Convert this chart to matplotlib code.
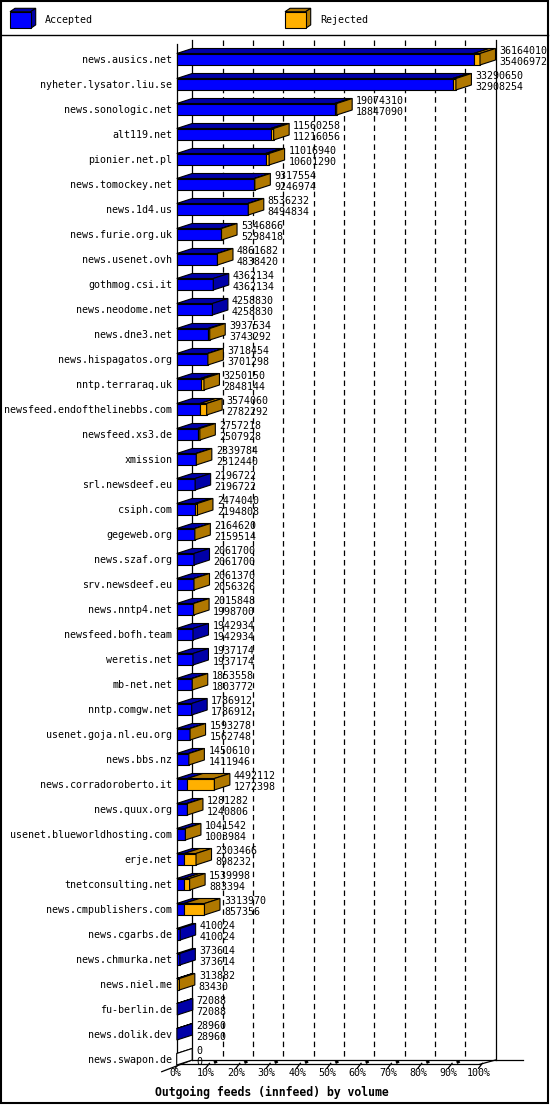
import numpy as np
import matplotlib
matplotlib.use('Agg')
import matplotlib.pyplot as plt
from matplotlib.patches import Polygon, Rectangle

plt.rcParams['lines.scale_dashes'] = False

# innfeed outgoing feeds: offered (top number) and accepted (bottom number)
hosts = ['news.ausics.net', 'nyheter.lysator.liu.se', 'news.sonologic.net',
         'alt119.net', 'pionier.net.pl', 'news.tomockey.net', 'news.1d4.us',
         'news.furie.org.uk', 'news.usenet.ovh', 'gothmog.csi.it',
         'news.neodome.net', 'news.dne3.net', 'news.hispagatos.org',
         'nntp.terraraq.uk', 'newsfeed.endofthelinebbs.com', 'newsfeed.xs3.de',
         'xmission', 'srl.newsdeef.eu', 'csiph.com', 'gegeweb.org',
         'news.szaf.org', 'srv.newsdeef.eu', 'news.nntp4.net',
         'newsfeed.bofh.team', 'weretis.net', 'mb-net.net', 'nntp.comgw.net',
         'usenet.goja.nl.eu.org', 'news.bbs.nz', 'news.corradoroberto.it',
         'news.quux.org', 'usenet.blueworldhosting.com', 'erje.net',
         'tnetconsulting.net', 'news.cmpublishers.com', 'news.cgarbs.de',
         'news.chmurka.net', 'news.niel.me', 'fu-berlin.de', 'news.dolik.dev',
         'news.swapon.de']
offered = [36164010, 33290650, 19074310, 11560258, 11016940, 9317554, 8536232,
           5346866, 4861682, 4362134, 4258830, 3937534, 3718454, 3250150,
           3574060, 2757218, 2339784, 2196722, 2474040, 2164620, 2061700,
           2061370, 2015848, 1942934, 1937174, 1853558, 1786912, 1593278,
           1450610, 4492112, 1281282, 1041542, 2303466, 1539998, 3313970,
           410024, 373614, 313882, 72088, 28960, 0]
accepted = [35406972, 32908254, 18847090, 11216056, 10601290, 9246974, 8494834,
            5298418, 4838420, 4362134, 4258830, 3743292, 3701298, 2848144,
            2782292, 2507928, 2312440, 2196722, 2194808, 2159514, 2061700,
            2056326, 1998700, 1942934, 1937174, 1803772, 1786912, 1562748,
            1411946, 1272398, 1240806, 1003984, 898232, 883394, 857356,
            410024, 373614, 83430, 72088, 28960, 0]
pct_ticks = [0, 10, 20, 30, 40, 50, 60, 70, 80, 90, 100]

BLUE, BLUE_D = '#0000ff', '#0000a8'
ORANGE, ORANGE_D = '#ffb000', '#b07800'
FONT = 'DejaVu Sans Mono'

W, H = 550, 1105
fig = plt.figure(figsize=(W / 100, H / 100), dpi=100)
ax = fig.add_axes([0, 0, 1, 1])
ax.axis('off')

# pixel layout of the plot area
X0, SX = 176.7, 3.033   # x pixel of 0 %, pixels per percent
Y0, SY = 59.0, 25.0     # y pixel of first row, pixels per row
ax.set_xlim(-X0 / SX, (W - X0) / SX)
ax.set_ylim((H - Y0) / SY, -Y0 / SY)

dx, dy = 15.5 / SX, 5 / SY
f_top, f_bot = -5.5 / SY, 6 / SY
y_back_top, y_back_bot = (40 - Y0) / SY, (1060 - Y0) / SY
y_front_top, y_front_bot = (44 - Y0) / SY, (1064.3 - Y0) / SY

n = len(hosts)
rows = np.arange(n)
vmax = max(offered)
tot = np.array(offered) / vmax * 100
acc = np.array(accepted) / vmax * 100

# back wall grid
for p in pct_ticks:
    if p in (0, 100):
        ax.plot([p + dx] * 2, [y_back_top, y_back_bot], color='black', lw=0.9, zorder=1)
    else:
        ax.plot([p + dx] * 2, [y_back_top, y_back_bot], color='black', lw=0.9,
                ls=(0, (4, 2.8)), zorder=1)
# front axis and floor
ax.plot([0, 0], [y_front_top, y_front_bot], color='black', lw=0.9, zorder=2)
ax.plot([0, 100], [y_front_bot] * 2, color='black', lw=0.9, zorder=2)
ax.plot([dx, (523 - X0) / SX], [y_back_bot] * 2, color='black', lw=0.9, zorder=2)
ax.plot([(161.7 - X0) / SX, dx], [(1071.7 - Y0) / SY, y_back_bot], color='black', lw=0.9, zorder=2)
ax.plot([100, 100 + dx], [y_front_bot, y_back_bot], color='black', lw=0.9, zorder=2)
for p in pct_ticks:
    ax.plot([p - 0.5, p + 0.8], [y_front_bot + 4 / SY, y_front_bot - 1 / SY],
            color='black', lw=0.9, zorder=2)
    if 0 < p < 100:
        ax.plot([p + 2.3, p + 3.3], [y_front_bot - 1.6 / SY, y_front_bot - 3 / SY],
                color='black', lw=2.0, solid_capstyle='butt', zorder=2)
    ax.text(p - 0.3, (1073 - Y0) / SY, f'{p}%', ha='center', va='center',
            fontsize=7.2, family=FONT)

ax.text((155 - X0) / SX, (1092 - Y0) / SY, 'Outgoing feeds (innfeed) by volume',
        ha='left', va='center', fontsize=8.3, family=FONT, fontweight='bold')


def face(pts, color):
    ax.add_patch(Polygon(pts, closed=True, facecolor=color, edgecolor='black',
                         lw=0.8, zorder=3))


for i in rows:
    t, a = tot[i], acc[i]
    yt, yb = i + f_top, i + f_bot
    # front faces
    face([(0, yt), (a, yt), (a, yb), (0, yb)], BLUE)
    if t > a:
        face([(a, yt), (t, yt), (t, yb), (a, yb)], ORANGE)
    # top faces
    face([(0, yt), (a, yt), (a + dx, yt - dy), (dx, yt - dy)], BLUE_D)
    if t > a:
        face([(a, yt), (t, yt), (t + dx, yt - dy), (a + dx, yt - dy)], ORANGE_D)
    # side face
    if offered[i] == 0:
        side = 'white'
    elif t > a:
        side = ORANGE_D
    else:
        side = BLUE_D
    face([(t, yt), (t + dx, yt - dy), (t + dx, yb - dy), (t, yb)], side)

    ax.text(-4.5 / SX, i + 1 / SY, hosts[i], ha='right', va='center',
            fontsize=7.2, family=FONT)
    ax.text(t + dx + 4 / SX, i - 8 / SY, str(offered[i]), ha='left', va='center',
            fontsize=7.2, family=FONT, zorder=4)
    ax.text(t + dx + 4 / SX, i + 3 / SY, str(accepted[i]), ha='left', va='center',
            fontsize=7.2, family=FONT, zorder=4)

# legend and frame in pixel coordinates
lg = fig.add_axes([0, 0, 1, 1], facecolor='none')
lg.axis('off')
lg.set_xlim(0, W)
lg.set_ylim(H, 0)
lg.add_patch(Rectangle((1, 1), 547, 1102, fill=False, edgecolor='black', lw=1.5))
lg.plot([1, 548], [34.5, 34.5], color='black', lw=1.0)


def cube(x, color, dark):
    w, ct, cb, cx, cy = 20.7, 11.7, 28.3, 5, 3.4
    for pts, c in (([(x, ct), (x + w, ct), (x + w + cx, ct - cy), (x + cx, ct - cy)], dark),
                   ([(x + w, ct), (x + w + cx, ct - cy), (x + w + cx, cb - cy), (x + w, cb)], dark),
                   ([(x, ct), (x + w, ct), (x + w, cb), (x, cb)], color)):
        lg.add_patch(Polygon(pts, closed=True, facecolor=c, edgecolor='black', lw=0.8))


cube(10, BLUE, BLUE_D)
lg.text(45, 20, 'Accepted', ha='left', va='center', fontsize=7.2, family=FONT)
cube(285, ORANGE, ORANGE_D)
lg.text(320, 20, 'Rejected', ha='left', va='center', fontsize=7.2, family=FONT)

fig.savefig('out.png', dpi=100)
